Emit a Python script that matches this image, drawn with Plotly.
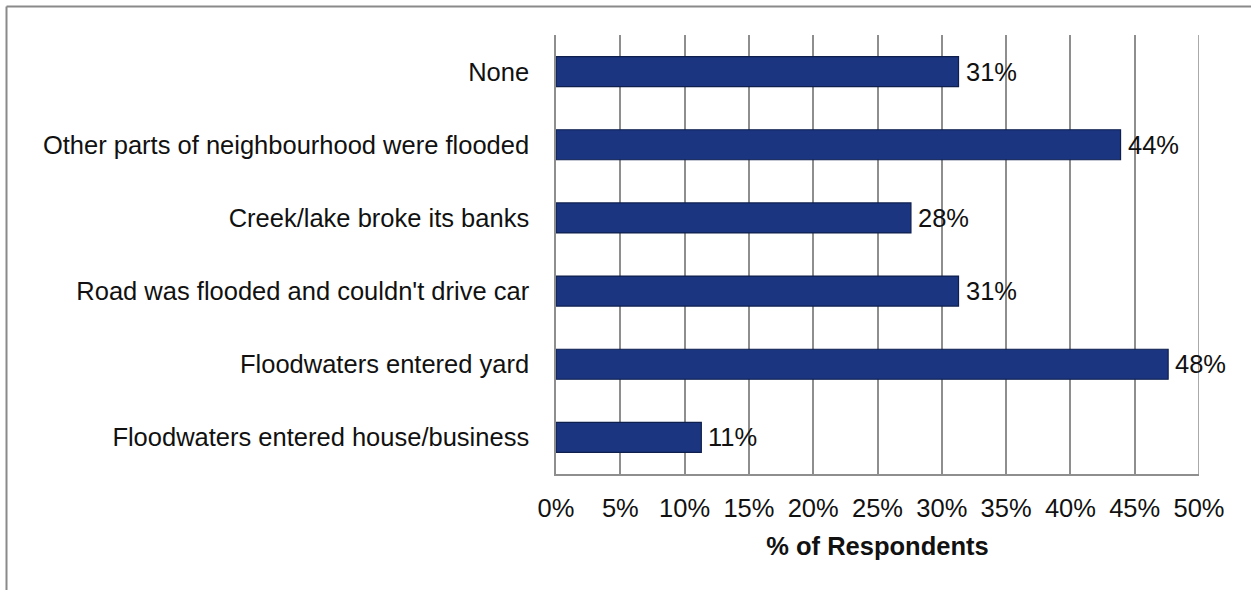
import plotly.graph_objects as go

# Flood impacts reported, top to bottom as displayed
categories = [
    "None",
    "Other parts of neighbourhood were flooded",
    "Creek/lake broke its banks",
    "Road was flooded and couldn't drive car",
    "Floodwaters entered yard",
    "Floodwaters entered house/business",
]
percent = [31.3, 43.9, 27.6, 31.3, 47.6, 11.3]

x_ticks = list(range(0, 51, 5))
x_tick_labels = [f"{v}%" for v in x_ticks]

W, H = 1251, 590
ML, MR, MT, MB = 556, 52, 35, 116
pw, ph = W - ML - MR, H - MT - MB

font = "Liberation Sans, Arial, sans-serif"
FS = 25.5

fig = go.Figure(
    go.Bar(
        y=categories,
        x=percent,
        orientation="h",
        marker=dict(color="#1b3581", line=dict(color="#0e1f4e", width=1.2)),
        hoverinfo="skip",
    )
)

# value labels just past the end of each bar
for cat, val in zip(categories, percent):
    fig.add_annotation(
        x=val, y=cat, xref="x", yref="y",
        text=f"{val:.0f}%", showarrow=False,
        xanchor="left", yanchor="middle", xshift=5,
        font=dict(family=font, size=FS, color="#111111"),
    )

# outer chart frame (top and left edges)
frame_x = (6.5 - ML) / pw
frame_y = (H - MB - 6.5) / ph
fig.add_shape(type="line", xref="paper", yref="paper",
              x0=frame_x, x1=(W - ML) / pw + 0.01, y0=frame_y, y1=frame_y,
              line=dict(color="#8a8a8a", width=2))
fig.add_shape(type="line", xref="paper", yref="paper",
              x0=frame_x, x1=frame_x, y0=frame_y, y1=-MB / ph - 0.01,
              line=dict(color="#8a8a8a", width=2))

fig.update_layout(
    width=W, height=H,
    margin=dict(l=ML, r=MR, t=MT, b=MB),
    paper_bgcolor="white", plot_bgcolor="white",
    bargap=0.59,
    showlegend=False,
    font=dict(family=font, size=FS, color="#111111"),
    xaxis=dict(
        range=[0, 50],
        tickvals=x_ticks,
        ticktext=x_tick_labels,
        showgrid=True, gridcolor="#8e8e8e", gridwidth=1.5,
        zeroline=False,
        showline=True, linecolor="#8e8e8e", linewidth=1.5, mirror=False,
        ticks="", tickfont=dict(size=FS),
        ticklabelstandoff=11,
        title=dict(text="<b>% of Respondents</b>", font=dict(size=FS), standoff=16),
        fixedrange=True,
    ),
    yaxis=dict(
        categoryorder="array",
        categoryarray=categories[::-1],
        showgrid=False,
        showline=True, linecolor="#8e8e8e", linewidth=1.5,
        ticks="", ticklabelstandoff=20,
        tickfont=dict(size=FS),
        fixedrange=True,
    ),
)

# right plot edge
fig.add_shape(type="line", xref="x", yref="paper", x0=50, x1=50, y0=0, y1=1,
              line=dict(color="#8e8e8e", width=1.5))

fig.write_html("out.html")
